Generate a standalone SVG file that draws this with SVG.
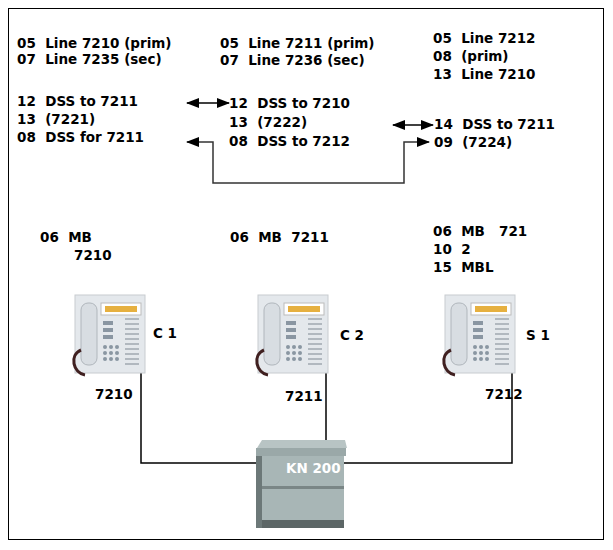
<svg xmlns="http://www.w3.org/2000/svg" width="613" height="550" viewBox="0 0 613 550">
<defs>
<style>
text{font-family:"DejaVu Sans",Verdana,sans-serif;font-weight:bold;font-size:13.5px;fill:#000;white-space:pre}
.ln{stroke:#000;stroke-width:1.5;fill:none}
.cn{stroke:#333;stroke-width:1.5;fill:none}
</style>
<marker id="ah" markerWidth="13" markerHeight="10" refX="12" refY="5" orient="auto-start-reverse" markerUnits="userSpaceOnUse"><path d="M0,0L13,5L0,10z" fill="#000"/></marker>
<g id="phone">
<rect x="0" y="0" width="70" height="78" fill="#e4e8ec" stroke="#c8ccd0"/>
<rect x="6" y="8" width="16" height="62" rx="7" fill="#d8dde2" stroke="#b0b6bc"/>
<path d="M6,55 C-6,60 -2,78 10,80" stroke="#402020" stroke-width="3" fill="none"/>
<rect x="26" y="8" width="40" height="12" fill="#ffffff" stroke="#bbb"/>
<rect x="30" y="11" width="32" height="6" fill="#e6b040"/>
<g fill="#8a96a2"><rect x="28" y="26" width="10" height="4"/><rect x="28" y="33" width="10" height="4"/><rect x="28" y="40" width="10" height="4"/>
<circle cx="30" cy="52" r="2"/><circle cx="36" cy="52" r="2"/><circle cx="42" cy="52" r="2"/><circle cx="30" cy="58" r="2"/><circle cx="36" cy="58" r="2"/><circle cx="42" cy="58" r="2"/><circle cx="30" cy="64" r="2"/><circle cx="36" cy="64" r="2"/><circle cx="42" cy="64" r="2"/></g>
<g stroke="#a0a8b0" stroke-width="1.5"><path d="M50,24h14M50,29h14M50,34h14M50,39h14M50,44h14M50,49h14M50,54h14M50,59h14M50,64h14M50,69h14"/></g>
</g>
</defs>
<rect x="0" y="0" width="613" height="550" fill="#fff"/>
<rect x="8.5" y="8.5" width="595" height="531" fill="none" stroke="#000" stroke-width="1"/>
<g id="connectors">
<line class="ln" x1="187" y1="103" x2="229" y2="103" marker-start="url(#ah)" marker-end="url(#ah)"/>
<line class="ln" x1="393" y1="125" x2="433" y2="125" marker-start="url(#ah)" marker-end="url(#ah)"/>
<path class="cn" d="M187,142H213V183H404V142H429" marker-start="url(#ah)" marker-end="url(#ah)"/>
<path class="ln" d="M141,370V463H258"/>
<path class="ln" d="M326,370V440"/>
<path class="ln" d="M512,370V463H343"/>
</g>
<g id="t1"><text x="17" y="48">05  Line 7210 (prim)</text><text x="17" y="64">07  Line 7235 (sec)</text></g>
<g id="t2"><text x="220" y="48">05  Line 7211 (prim)</text><text x="220" y="65">07  Line 7236 (sec)</text></g>
<g id="t3"><text x="433" y="43">05  Line 7212</text><text x="433" y="61">08  (prim)</text><text x="433" y="79">13  Line 7210</text></g>
<g id="d1"><text x="17" y="106">12  DSS to 7211</text><text x="17" y="124">13  (7221)</text><text x="17" y="142">08  DSS for 7211</text></g>
<g id="d2"><text x="229" y="108">12  DSS to 7210</text><text x="229" y="127">13  (7222)</text><text x="229" y="146">08  DSS to 7212</text></g>
<g id="d3"><text x="434" y="129">14  DSS to 7211</text><text x="434" y="147">09  (7224)</text></g>
<g id="m1"><text x="40" y="242">06  MB</text><text x="74" y="260">7210</text></g>
<g id="m2"><text x="230" y="242">06  MB  7211</text></g>
<g id="m3"><text x="433" y="236">06  MB   721</text><text x="433" y="254">10  2</text><text x="433" y="272">15  MBL</text></g>
<g id="C1"><use href="#phone" x="75" y="295"/><text x="153" y="338">C 1</text><text x="95" y="399">7210</text></g>
<g id="C2"><use href="#phone" x="258" y="295"/><text x="340" y="340">C 2</text><text x="285" y="401">7211</text></g>
<g id="S1"><use href="#phone" x="445" y="295"/><text x="526" y="340">S 1</text><text x="485" y="399">7212</text></g>
<g id="KN">
<path d="M257,448L262,440H345L347,448Z" fill="#b8c4c4"/>
<rect x="256" y="448" width="90" height="8" fill="#9aa8a8"/>
<rect x="256" y="456" width="6" height="72" fill="#6c7878"/>
<rect x="262" y="456" width="82" height="30" fill="#a8b6b6"/>
<rect x="262" y="488" width="82" height="32" fill="#a8b6b6"/>
<rect x="262" y="486" width="82" height="3" fill="#7a8686"/>
<rect x="262" y="520" width="82" height="8" fill="#5c6666"/>
<text x="286" y="473" style="fill:#fff">KN 200</text>
</g>
</svg>
